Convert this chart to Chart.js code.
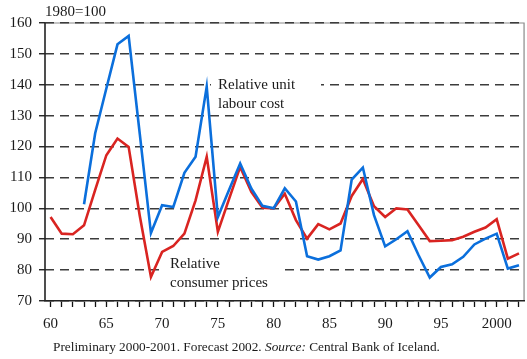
<!DOCTYPE html>
<html>
<head>
<meta charset="utf-8">
<script src="https://cdn.jsdelivr.net/npm/chart.js@4/dist/chart.umd.min.js"></script>
<style>
  html, body { margin: 0; padding: 0; background: #fff; }
  #wrap { position: relative; width: 527px; height: 359px; }
</style>
</head>
<body>
<div id="wrap"><canvas id="canRer"></canvas></div>
<script>
const years = []
for (let y = 1960; y <= 2002; y++) years.push(y)

// relative consumer prices, 1960-2002
const consumerPrices = [
  97.2, 91.8, 91.6, 94.5, 106, 117.2, 122.6, 119.9, 97.5, 77.8,
  85.9, 87.8, 91.8, 102.6, 116.7, 92.4, 103, 113.4, 105.3, 100.2,
  100, 104.7, 96.2, 90.2, 94.9, 93.2, 95.1, 104, 109.5, 100.7,
  97.2, 100, 99.6, 94.5, 89.4, 89.5, 89.7, 90.8, 92.4, 93.8,
  96.5, 83.7, 85.4
]

// relative unit labour cost, series starts in 1963
const labourCost = [
  null, null, null, 101.3, 124.3, 138.8, 153.1, 155.8, 124, 92,
  101, 100.4, 111.5, 116.7, 139.4, 97.2, 105.9, 114.5, 106.4, 100.8,
  100, 106.5, 102.2, 84.5, 83.4, 84.5, 86.4, 109.3, 113.2, 97.8,
  87.7, 90, 92.6, 84.8, 77.6, 81, 81.9, 84.3, 88.3, 90.2,
  91.8, 80.5, 81.6
]

const yTicks = [70, 80, 90, 100, 110, 120, 130, 140, 150, 160]

const serif = "'Liberation Serif', 'Times New Roman', serif"
const ink = '#1a1a1a'

function tickName (year) {
  if (year % 5 !== 0) return ''
  return year === 2000 ? '2000' : String(year).slice(2)
}

const annotate = {
  id: 'annotate',
  beforeDraw (chart) {
    const { ctx, chartArea: a } = chart
    ctx.save()
    ctx.strokeStyle = '#8a8a8a'
    ctx.lineWidth = 1.2
    ctx.beginPath()
    ctx.moveTo(a.left, a.top)
    ctx.lineTo(a.right - 0.5, a.top)
    ctx.lineTo(a.right - 0.5, a.bottom)
    ctx.stroke()
    ctx.restore()
  },
  beforeDatasetsDraw (chart) {
    const { ctx, chartArea: a } = chart
    ctx.save()
    // solid left axis (grid dash would otherwise apply to it)
    ctx.strokeStyle = '#222'
    ctx.lineWidth = 1.6
    ctx.beginPath()
    ctx.moveTo(a.left, a.top)
    ctx.lineTo(a.left, a.bottom)
    ctx.stroke()

    ctx.fillStyle = '#fff'
    ctx.fillRect(211, 74, 110, 39)
    ctx.fillRect(164, 254, 116, 40)
    ctx.fillStyle = ink
    ctx.font = '15px ' + serif
    ctx.textBaseline = 'middle'
    ctx.textAlign = 'left'
    ctx.fillText('Relative unit', 218, 85)
    ctx.fillText('labour cost', 218, 104)
    ctx.fillText('Relative', 170, 264)
    ctx.fillText('consumer prices', 170, 283)
    ctx.restore()
  },
  afterDraw (chart) {
    const ctx = chart.ctx
    ctx.save()
    ctx.fillStyle = ink
    ctx.textBaseline = 'middle'
    ctx.textAlign = 'left'
    ctx.font = '15px ' + serif
    ctx.fillText('1980=100', 45, 12)

    // footnote with italic "Source:"
    const parts = [
      ['Preliminary 2000-2001. Forecast 2002. ', ''],
      ['Source:', 'italic '],
      [' Central Bank of Iceland.', '']
    ]
    let x = 53
    parts.forEach(([txt, style]) => {
      ctx.font = style + '13.3px ' + serif
      ctx.fillText(txt, x, 348)
      x += ctx.measureText(txt).width
    })
    ctx.restore()
  }
}

const cRer = document.getElementById('canRer')

new Chart(cRer, {
  type: 'line',
  plugins: [annotate],
  data: {
    labels: years,
    datasets: [
      {
        label: 'Relative unit labour cost',
        data: labourCost,
        borderColor: '#0b6fdc',
        borderWidth: 2.6,
        pointRadius: 0,
        tension: 0,
        spanGaps: false
      },
      {
        label: 'Relative consumer prices',
        data: consumerPrices,
        borderColor: '#d92421',
        borderWidth: 2.6,
        pointRadius: 0,
        tension: 0
      }
    ]
  },
  options: {
    responsive: true,
    maintainAspectRatio: false,
    animation: false,
    layout: { padding: { top: 23, right: 1, left: 0, bottom: 0 } },
    plugins: {
      legend: { display: false },
      tooltip: { enabled: false }
    },
    scales: {
      x: {
        type: 'category',
        offset: true,
        afterFit (scale) { scale.height = 58 },
        grid: {
          offset: false,
          drawOnChartArea: false,
          drawTicks: true,
          tickLength: 6,
          tickColor: '#111',
          tickWidth: 1.3
        },
        border: { display: true, color: '#222', width: 1.6 },
        ticks: {
          autoSkip: false,
          maxRotation: 0,
          padding: 8,
          color: ink,
          font: { family: serif, size: 15 },
          callback (val, i) { return tickName(years[i]) }
        }
      },
      y: {
        min: yTicks[0],
        max: yTicks[yTicks.length - 1],
        afterFit (scale) { scale.width = 45 },
        afterBuildTicks (scale) { scale.ticks = yTicks.map(v => ({ value: v })) },
        grid: {
          color: '#3c3c3c',
          lineWidth: 1.5,
          drawTicks: true,
          tickLength: 6,
          tickColor: '#111',
          tickWidth: 1.3,
          tickBorderDash: []
        },
        border: { display: false, dash: [9, 6] },
        ticks: {
          padding: 7,
          color: ink,
          font: { family: serif, size: 15 }
        }
      }
    }
  }
})
</script>
</body>
</html>
